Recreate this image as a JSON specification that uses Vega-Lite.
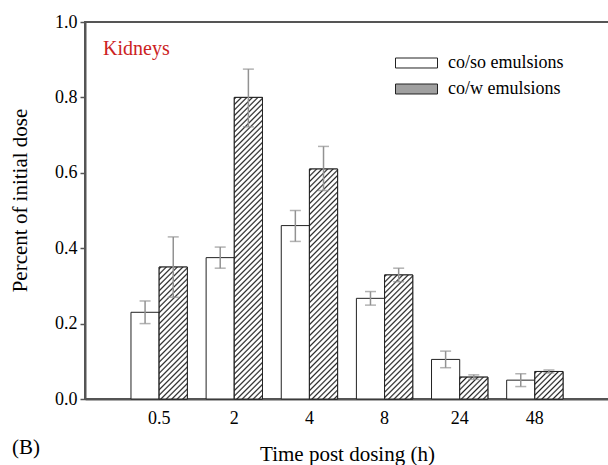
{
"$schema":"https://vega.github.io/schema/vega-lite/v6.json",
"autosize":"none",
"padding":{"left":85,"top":22,"right":0,"bottom":66},
"width":524,"height":377,
"config":{"font":"Liberation Serif, Times New Roman, serif","view":{"stroke":"#555","strokeWidth":2},
"axis":{"grid":false,"domainColor":"#555","domainWidth":2,"tickColor":"#555","tickWidth":1.5,"labelColor":"#000","titleColor":"#000","titleFontWeight":"normal","labelFont":"Liberation Serif, Times New Roman, serif","titleFont":"Liberation Serif, Times New Roman, serif"}},
"title":{"text":"(B)","orient":"bottom","anchor":"start","frame":"group","fontSize":21,"fontWeight":"normal","font":"Liberation Serif, Times New Roman, serif","color":"#000","baseline":"alphabetic","offset":0,"dx":-73,"dy":-10},
"data":{"values":[
{"time":"0.5","series":"co/so emulsions","value":0.23,"lo":0.20,"hi":0.26},
{"time":"0.5","series":"co/w emulsions","value":0.35,"lo":0.27,"hi":0.43},
{"time":"2","series":"co/so emulsions","value":0.375,"lo":0.347,"hi":0.403},
{"time":"2","series":"co/w emulsions","value":0.80,"lo":0.722,"hi":0.875},
{"time":"4","series":"co/so emulsions","value":0.46,"lo":0.418,"hi":0.50},
{"time":"4","series":"co/w emulsions","value":0.61,"lo":0.553,"hi":0.67},
{"time":"8","series":"co/so emulsions","value":0.267,"lo":0.249,"hi":0.285},
{"time":"8","series":"co/w emulsions","value":0.329,"lo":0.311,"hi":0.347},
{"time":"24","series":"co/so emulsions","value":0.105,"lo":0.083,"hi":0.127},
{"time":"24","series":"co/w emulsions","value":0.058,"lo":0.052,"hi":0.064},
{"time":"48","series":"co/so emulsions","value":0.05,"lo":0.033,"hi":0.067},
{"time":"48","series":"co/w emulsions","value":0.073,"lo":0.069,"hi":0.077}
]},
"encoding":{
"x":{"field":"time","type":"nominal","scale":{"domain":["0.5","2","4","8","24","48"],"paddingInner":0.25,"paddingOuter":0.612},
"axis":{"title":"Time post dosing (h)","titleFont":"Liberation Serif, Times New Roman, serif","labelFont":"Liberation Serif, Times New Roman, serif","titleFontSize":21,"titleY":61,"titleBaseline":"alphabetic","labelFontSize":18,"labelPadding":10,"ticks":false,"tickSize":0,"labelAngle":0}},
"xOffset":{"field":"series","type":"nominal","scale":{"domain":["co/so emulsions","co/w emulsions"],"paddingInner":0,"paddingOuter":0}}
},
"layer":[
{"mark":{"type":"bar","stroke":"#222","strokeWidth":1},
"encoding":{
"y":{"field":"value","type":"quantitative","title":"Percent of initial dose","scale":{"domain":[0,1],"nice":false},
"axis":{"titleFont":"Liberation Serif, Times New Roman, serif","labelFont":"Liberation Serif, Times New Roman, serif","titleFontSize":21,"titleX":-65,"titleY":178,"titleAngle":-90,"titleBaseline":"middle","titleAlign":"center","values":[0,0.2,0.4,0.6,0.8,1],"format":".1f","labelFontSize":18,"tickSize":5,"labelPadding":3}},
"fill":{"field":"series","type":"nominal","scale":{"domain":["co/so emulsions","co/w emulsions"],"range":["#ffffff","#a0a0a0"]},
"legend":{"orient":"none","legendX":18,"legendY":33,"title":"Kidneys","titleOrient":"left","titleFontSize":20,"titleColor":"#cc2222","titleFontWeight":"normal","titleFont":"Liberation Serif, Times New Roman, serif","titlePadding":225,"titleBaseline":"alphabetic","titleAnchor":"start",
"symbolType":"M-1,-0.238H1V0.238H-1Z","symbolSize":1764,"clipHeight":16,"rowPadding":8,"labelOffset":10,"labelFontSize":18,"labelFont":"Liberation Serif, Times New Roman, serif","labelColor":"#000","symbolStrokeColor":"#222","symbolStrokeWidth":1,"padding":0}}
}},
{"transform":[{"filter":"datum.series === 'co/w emulsions' && datum.time === '0.5'"}],
"mark":{"type":"bar","stroke":"#222","strokeWidth":1,"fill":{"gradient":"linear","x1":0,"y1":0,"x2":0.51115,"y2":2.3917,"stops":[
{"offset":0,"color":"#fff"},{"offset":0.005,"color":"#222"},{"offset":0.01,"color":"#fff"},{"offset":0.0167,"color":"#fff"},{"offset":0.0217,"color":"#222"},{"offset":0.0267,"color":"#fff"},{"offset":0.0333,"color":"#fff"},{"offset":0.0383,"color":"#222"},{"offset":0.0433,"color":"#fff"},
{"offset":0.05,"color":"#fff"},{"offset":0.055,"color":"#222"},{"offset":0.06,"color":"#fff"},{"offset":0.0667,"color":"#fff"},{"offset":0.0717,"color":"#222"},{"offset":0.0767,"color":"#fff"},{"offset":0.0833,"color":"#fff"},{"offset":0.0883,"color":"#222"},{"offset":0.0933,"color":"#fff"},
{"offset":0.1,"color":"#fff"},{"offset":0.105,"color":"#222"},{"offset":0.11,"color":"#fff"},{"offset":0.1167,"color":"#fff"},{"offset":0.1217,"color":"#222"},{"offset":0.1267,"color":"#fff"},{"offset":0.1333,"color":"#fff"},{"offset":0.1383,"color":"#222"},{"offset":0.1433,"color":"#fff"},
{"offset":0.15,"color":"#fff"},{"offset":0.155,"color":"#222"},{"offset":0.16,"color":"#fff"},{"offset":0.1667,"color":"#fff"},{"offset":0.1717,"color":"#222"},{"offset":0.1767,"color":"#fff"},{"offset":0.1833,"color":"#fff"},{"offset":0.1883,"color":"#222"},{"offset":0.1933,"color":"#fff"},
{"offset":0.2,"color":"#fff"},{"offset":0.205,"color":"#222"},{"offset":0.21,"color":"#fff"},{"offset":0.2167,"color":"#fff"},{"offset":0.2217,"color":"#222"},{"offset":0.2267,"color":"#fff"},{"offset":0.2333,"color":"#fff"},{"offset":0.2383,"color":"#222"},{"offset":0.2433,"color":"#fff"},
{"offset":0.25,"color":"#fff"},{"offset":0.255,"color":"#222"},{"offset":0.26,"color":"#fff"},{"offset":0.2667,"color":"#fff"},{"offset":0.2717,"color":"#222"},{"offset":0.2767,"color":"#fff"},{"offset":0.2833,"color":"#fff"},{"offset":0.2883,"color":"#222"},{"offset":0.2933,"color":"#fff"},
{"offset":0.3,"color":"#fff"},{"offset":0.305,"color":"#222"},{"offset":0.31,"color":"#fff"},{"offset":0.3167,"color":"#fff"},{"offset":0.3217,"color":"#222"},{"offset":0.3267,"color":"#fff"},{"offset":0.3333,"color":"#fff"},{"offset":0.3383,"color":"#222"},{"offset":0.3433,"color":"#fff"},
{"offset":0.35,"color":"#fff"},{"offset":0.355,"color":"#222"},{"offset":0.36,"color":"#fff"},{"offset":0.3667,"color":"#fff"},{"offset":0.3717,"color":"#222"},{"offset":0.3767,"color":"#fff"},{"offset":0.3833,"color":"#fff"},{"offset":0.3883,"color":"#222"},{"offset":0.3933,"color":"#fff"},
{"offset":0.4,"color":"#fff"},{"offset":0.405,"color":"#222"},{"offset":0.41,"color":"#fff"},{"offset":0.4167,"color":"#fff"},{"offset":0.4217,"color":"#222"},{"offset":0.4267,"color":"#fff"},{"offset":0.4333,"color":"#fff"},{"offset":0.4383,"color":"#222"},{"offset":0.4433,"color":"#fff"},
{"offset":0.45,"color":"#fff"},{"offset":0.455,"color":"#222"},{"offset":0.46,"color":"#fff"},{"offset":0.4667,"color":"#fff"},{"offset":0.4717,"color":"#222"},{"offset":0.4767,"color":"#fff"},{"offset":0.4833,"color":"#fff"},{"offset":0.4883,"color":"#222"},{"offset":0.4933,"color":"#fff"}
]}},
"encoding":{"y":{"field":"value","type":"quantitative","title":"Percent of initial dose"}}},
{"transform":[{"filter":"datum.series === 'co/w emulsions' && datum.time === '2'"}],
"mark":{"type":"bar","stroke":"#222","strokeWidth":1,"fill":{"gradient":"linear","x1":0,"y1":0,"x2":0.10142,"y2":1.0847,"stops":[
{"offset":0,"color":"#fff"},{"offset":0.005,"color":"#222"},{"offset":0.01,"color":"#fff"},{"offset":0.0167,"color":"#fff"},{"offset":0.0217,"color":"#222"},{"offset":0.0267,"color":"#fff"},{"offset":0.0333,"color":"#fff"},{"offset":0.0383,"color":"#222"},{"offset":0.0433,"color":"#fff"},
{"offset":0.05,"color":"#fff"},{"offset":0.055,"color":"#222"},{"offset":0.06,"color":"#fff"},{"offset":0.0667,"color":"#fff"},{"offset":0.0717,"color":"#222"},{"offset":0.0767,"color":"#fff"},{"offset":0.0833,"color":"#fff"},{"offset":0.0883,"color":"#222"},{"offset":0.0933,"color":"#fff"},
{"offset":0.1,"color":"#fff"},{"offset":0.105,"color":"#222"},{"offset":0.11,"color":"#fff"},{"offset":0.1167,"color":"#fff"},{"offset":0.1217,"color":"#222"},{"offset":0.1267,"color":"#fff"},{"offset":0.1333,"color":"#fff"},{"offset":0.1383,"color":"#222"},{"offset":0.1433,"color":"#fff"},
{"offset":0.15,"color":"#fff"},{"offset":0.155,"color":"#222"},{"offset":0.16,"color":"#fff"},{"offset":0.1667,"color":"#fff"},{"offset":0.1717,"color":"#222"},{"offset":0.1767,"color":"#fff"},{"offset":0.1833,"color":"#fff"},{"offset":0.1883,"color":"#222"},{"offset":0.1933,"color":"#fff"},
{"offset":0.2,"color":"#fff"},{"offset":0.205,"color":"#222"},{"offset":0.21,"color":"#fff"},{"offset":0.2167,"color":"#fff"},{"offset":0.2217,"color":"#222"},{"offset":0.2267,"color":"#fff"},{"offset":0.2333,"color":"#fff"},{"offset":0.2383,"color":"#222"},{"offset":0.2433,"color":"#fff"},
{"offset":0.25,"color":"#fff"},{"offset":0.255,"color":"#222"},{"offset":0.26,"color":"#fff"},{"offset":0.2667,"color":"#fff"},{"offset":0.2717,"color":"#222"},{"offset":0.2767,"color":"#fff"},{"offset":0.2833,"color":"#fff"},{"offset":0.2883,"color":"#222"},{"offset":0.2933,"color":"#fff"},
{"offset":0.3,"color":"#fff"},{"offset":0.305,"color":"#222"},{"offset":0.31,"color":"#fff"},{"offset":0.3167,"color":"#fff"},{"offset":0.3217,"color":"#222"},{"offset":0.3267,"color":"#fff"},{"offset":0.3333,"color":"#fff"},{"offset":0.3383,"color":"#222"},{"offset":0.3433,"color":"#fff"},
{"offset":0.35,"color":"#fff"},{"offset":0.355,"color":"#222"},{"offset":0.36,"color":"#fff"},{"offset":0.3667,"color":"#fff"},{"offset":0.3717,"color":"#222"},{"offset":0.3767,"color":"#fff"},{"offset":0.3833,"color":"#fff"},{"offset":0.3883,"color":"#222"},{"offset":0.3933,"color":"#fff"},
{"offset":0.4,"color":"#fff"},{"offset":0.405,"color":"#222"},{"offset":0.41,"color":"#fff"},{"offset":0.4167,"color":"#fff"},{"offset":0.4217,"color":"#222"},{"offset":0.4267,"color":"#fff"},{"offset":0.4333,"color":"#fff"},{"offset":0.4383,"color":"#222"},{"offset":0.4433,"color":"#fff"},
{"offset":0.45,"color":"#fff"},{"offset":0.455,"color":"#222"},{"offset":0.46,"color":"#fff"},{"offset":0.4667,"color":"#fff"},{"offset":0.4717,"color":"#222"},{"offset":0.4767,"color":"#fff"},{"offset":0.4833,"color":"#fff"},{"offset":0.4883,"color":"#222"},{"offset":0.4933,"color":"#fff"},
{"offset":0.5,"color":"#fff"},{"offset":0.505,"color":"#222"},{"offset":0.51,"color":"#fff"},{"offset":0.5167,"color":"#fff"},{"offset":0.5217,"color":"#222"},{"offset":0.5267,"color":"#fff"},{"offset":0.5333,"color":"#fff"},{"offset":0.5383,"color":"#222"},{"offset":0.5433,"color":"#fff"},
{"offset":0.55,"color":"#fff"},{"offset":0.555,"color":"#222"},{"offset":0.56,"color":"#fff"},{"offset":0.5667,"color":"#fff"},{"offset":0.5717,"color":"#222"},{"offset":0.5767,"color":"#fff"},{"offset":0.5833,"color":"#fff"},{"offset":0.5883,"color":"#222"},{"offset":0.5933,"color":"#fff"},
{"offset":0.6,"color":"#fff"},{"offset":0.605,"color":"#222"},{"offset":0.61,"color":"#fff"},{"offset":0.6167,"color":"#fff"},{"offset":0.6217,"color":"#222"},{"offset":0.6267,"color":"#fff"},{"offset":0.6333,"color":"#fff"},{"offset":0.6383,"color":"#222"},{"offset":0.6433,"color":"#fff"},
{"offset":0.65,"color":"#fff"},{"offset":0.655,"color":"#222"},{"offset":0.66,"color":"#fff"},{"offset":0.6667,"color":"#fff"},{"offset":0.6717,"color":"#222"},{"offset":0.6767,"color":"#fff"},{"offset":0.6833,"color":"#fff"},{"offset":0.6883,"color":"#222"},{"offset":0.6933,"color":"#fff"},
{"offset":0.7,"color":"#fff"},{"offset":0.705,"color":"#222"},{"offset":0.71,"color":"#fff"},{"offset":0.7167,"color":"#fff"},{"offset":0.7217,"color":"#222"},{"offset":0.7267,"color":"#fff"},{"offset":0.7333,"color":"#fff"},{"offset":0.7383,"color":"#222"},{"offset":0.7433,"color":"#fff"},
{"offset":0.75,"color":"#fff"},{"offset":0.755,"color":"#222"},{"offset":0.76,"color":"#fff"},{"offset":0.7667,"color":"#fff"},{"offset":0.7717,"color":"#222"},{"offset":0.7767,"color":"#fff"},{"offset":0.7833,"color":"#fff"},{"offset":0.7883,"color":"#222"},{"offset":0.7933,"color":"#fff"},
{"offset":0.8,"color":"#fff"},{"offset":0.805,"color":"#222"},{"offset":0.81,"color":"#fff"},{"offset":0.8167,"color":"#fff"},{"offset":0.8217,"color":"#222"},{"offset":0.8267,"color":"#fff"},{"offset":0.8333,"color":"#fff"},{"offset":0.8383,"color":"#222"},{"offset":0.8433,"color":"#fff"},
{"offset":0.85,"color":"#fff"},{"offset":0.855,"color":"#222"},{"offset":0.86,"color":"#fff"},{"offset":0.8667,"color":"#fff"},{"offset":0.8717,"color":"#222"},{"offset":0.8767,"color":"#fff"},{"offset":0.8833,"color":"#fff"},{"offset":0.8883,"color":"#222"},{"offset":0.8933,"color":"#fff"},
{"offset":0.9,"color":"#fff"},{"offset":0.905,"color":"#222"},{"offset":0.91,"color":"#fff"},{"offset":0.9167,"color":"#fff"},{"offset":0.9217,"color":"#222"},{"offset":0.9267,"color":"#fff"},{"offset":0.9333,"color":"#fff"},{"offset":0.9383,"color":"#222"},{"offset":0.9433,"color":"#fff"},
{"offset":0.95,"color":"#fff"},{"offset":0.955,"color":"#222"},{"offset":0.96,"color":"#fff"},{"offset":0.9667,"color":"#fff"},{"offset":0.9717,"color":"#222"},{"offset":0.9767,"color":"#fff"},{"offset":0.9833,"color":"#fff"},{"offset":0.9883,"color":"#222"},{"offset":0.9933,"color":"#fff"}
]}},
"encoding":{"y":{"field":"value","type":"quantitative","title":"Percent of initial dose"}}},
{"transform":[{"filter":"datum.series === 'co/w emulsions' && datum.time === '4'"}],
"mark":{"type":"bar","stroke":"#222","strokeWidth":1,"fill":{"gradient":"linear","x1":0,"y1":0,"x2":0.17336,"y2":1.41372,"stops":[
{"offset":0,"color":"#fff"},{"offset":0.005,"color":"#222"},{"offset":0.01,"color":"#fff"},{"offset":0.0167,"color":"#fff"},{"offset":0.0217,"color":"#222"},{"offset":0.0267,"color":"#fff"},{"offset":0.0333,"color":"#fff"},{"offset":0.0383,"color":"#222"},{"offset":0.0433,"color":"#fff"},
{"offset":0.05,"color":"#fff"},{"offset":0.055,"color":"#222"},{"offset":0.06,"color":"#fff"},{"offset":0.0667,"color":"#fff"},{"offset":0.0717,"color":"#222"},{"offset":0.0767,"color":"#fff"},{"offset":0.0833,"color":"#fff"},{"offset":0.0883,"color":"#222"},{"offset":0.0933,"color":"#fff"},
{"offset":0.1,"color":"#fff"},{"offset":0.105,"color":"#222"},{"offset":0.11,"color":"#fff"},{"offset":0.1167,"color":"#fff"},{"offset":0.1217,"color":"#222"},{"offset":0.1267,"color":"#fff"},{"offset":0.1333,"color":"#fff"},{"offset":0.1383,"color":"#222"},{"offset":0.1433,"color":"#fff"},
{"offset":0.15,"color":"#fff"},{"offset":0.155,"color":"#222"},{"offset":0.16,"color":"#fff"},{"offset":0.1667,"color":"#fff"},{"offset":0.1717,"color":"#222"},{"offset":0.1767,"color":"#fff"},{"offset":0.1833,"color":"#fff"},{"offset":0.1883,"color":"#222"},{"offset":0.1933,"color":"#fff"},
{"offset":0.2,"color":"#fff"},{"offset":0.205,"color":"#222"},{"offset":0.21,"color":"#fff"},{"offset":0.2167,"color":"#fff"},{"offset":0.2217,"color":"#222"},{"offset":0.2267,"color":"#fff"},{"offset":0.2333,"color":"#fff"},{"offset":0.2383,"color":"#222"},{"offset":0.2433,"color":"#fff"},
{"offset":0.25,"color":"#fff"},{"offset":0.255,"color":"#222"},{"offset":0.26,"color":"#fff"},{"offset":0.2667,"color":"#fff"},{"offset":0.2717,"color":"#222"},{"offset":0.2767,"color":"#fff"},{"offset":0.2833,"color":"#fff"},{"offset":0.2883,"color":"#222"},{"offset":0.2933,"color":"#fff"},
{"offset":0.3,"color":"#fff"},{"offset":0.305,"color":"#222"},{"offset":0.31,"color":"#fff"},{"offset":0.3167,"color":"#fff"},{"offset":0.3217,"color":"#222"},{"offset":0.3267,"color":"#fff"},{"offset":0.3333,"color":"#fff"},{"offset":0.3383,"color":"#222"},{"offset":0.3433,"color":"#fff"},
{"offset":0.35,"color":"#fff"},{"offset":0.355,"color":"#222"},{"offset":0.36,"color":"#fff"},{"offset":0.3667,"color":"#fff"},{"offset":0.3717,"color":"#222"},{"offset":0.3767,"color":"#fff"},{"offset":0.3833,"color":"#fff"},{"offset":0.3883,"color":"#222"},{"offset":0.3933,"color":"#fff"},
{"offset":0.4,"color":"#fff"},{"offset":0.405,"color":"#222"},{"offset":0.41,"color":"#fff"},{"offset":0.4167,"color":"#fff"},{"offset":0.4217,"color":"#222"},{"offset":0.4267,"color":"#fff"},{"offset":0.4333,"color":"#fff"},{"offset":0.4383,"color":"#222"},{"offset":0.4433,"color":"#fff"},
{"offset":0.45,"color":"#fff"},{"offset":0.455,"color":"#222"},{"offset":0.46,"color":"#fff"},{"offset":0.4667,"color":"#fff"},{"offset":0.4717,"color":"#222"},{"offset":0.4767,"color":"#fff"},{"offset":0.4833,"color":"#fff"},{"offset":0.4883,"color":"#222"},{"offset":0.4933,"color":"#fff"},
{"offset":0.5,"color":"#fff"},{"offset":0.505,"color":"#222"},{"offset":0.51,"color":"#fff"},{"offset":0.5167,"color":"#fff"},{"offset":0.5217,"color":"#222"},{"offset":0.5267,"color":"#fff"},{"offset":0.5333,"color":"#fff"},{"offset":0.5383,"color":"#222"},{"offset":0.5433,"color":"#fff"},
{"offset":0.55,"color":"#fff"},{"offset":0.555,"color":"#222"},{"offset":0.56,"color":"#fff"},{"offset":0.5667,"color":"#fff"},{"offset":0.5717,"color":"#222"},{"offset":0.5767,"color":"#fff"},{"offset":0.5833,"color":"#fff"},{"offset":0.5883,"color":"#222"},{"offset":0.5933,"color":"#fff"},
{"offset":0.6,"color":"#fff"},{"offset":0.605,"color":"#222"},{"offset":0.61,"color":"#fff"},{"offset":0.6167,"color":"#fff"},{"offset":0.6217,"color":"#222"},{"offset":0.6267,"color":"#fff"},{"offset":0.6333,"color":"#fff"},{"offset":0.6383,"color":"#222"},{"offset":0.6433,"color":"#fff"},
{"offset":0.65,"color":"#fff"},{"offset":0.655,"color":"#222"},{"offset":0.66,"color":"#fff"},{"offset":0.6667,"color":"#fff"},{"offset":0.6717,"color":"#222"},{"offset":0.6767,"color":"#fff"},{"offset":0.6833,"color":"#fff"},{"offset":0.6883,"color":"#222"},{"offset":0.6933,"color":"#fff"},
{"offset":0.7,"color":"#fff"},{"offset":0.705,"color":"#222"},{"offset":0.71,"color":"#fff"},{"offset":0.7167,"color":"#fff"},{"offset":0.7217,"color":"#222"},{"offset":0.7267,"color":"#fff"},{"offset":0.7333,"color":"#fff"},{"offset":0.7383,"color":"#222"},{"offset":0.7433,"color":"#fff"},
{"offset":0.75,"color":"#fff"},{"offset":0.755,"color":"#222"},{"offset":0.76,"color":"#fff"},{"offset":0.7667,"color":"#fff"},{"offset":0.7717,"color":"#222"},{"offset":0.7767,"color":"#fff"},{"offset":0.7833,"color":"#fff"},{"offset":0.7883,"color":"#222"},{"offset":0.7933,"color":"#fff"}
]}},
"encoding":{"y":{"field":"value","type":"quantitative","title":"Percent of initial dose"}}},
{"transform":[{"filter":"datum.series === 'co/w emulsions' && datum.time === '8'"}],
"mark":{"type":"bar","stroke":"#222","strokeWidth":1,"fill":{"gradient":"linear","x1":0,"y1":0,"x2":0.5752,"y2":2.52984,"stops":[
{"offset":0,"color":"#fff"},{"offset":0.005,"color":"#222"},{"offset":0.01,"color":"#fff"},{"offset":0.0167,"color":"#fff"},{"offset":0.0217,"color":"#222"},{"offset":0.0267,"color":"#fff"},{"offset":0.0333,"color":"#fff"},{"offset":0.0383,"color":"#222"},{"offset":0.0433,"color":"#fff"},
{"offset":0.05,"color":"#fff"},{"offset":0.055,"color":"#222"},{"offset":0.06,"color":"#fff"},{"offset":0.0667,"color":"#fff"},{"offset":0.0717,"color":"#222"},{"offset":0.0767,"color":"#fff"},{"offset":0.0833,"color":"#fff"},{"offset":0.0883,"color":"#222"},{"offset":0.0933,"color":"#fff"},
{"offset":0.1,"color":"#fff"},{"offset":0.105,"color":"#222"},{"offset":0.11,"color":"#fff"},{"offset":0.1167,"color":"#fff"},{"offset":0.1217,"color":"#222"},{"offset":0.1267,"color":"#fff"},{"offset":0.1333,"color":"#fff"},{"offset":0.1383,"color":"#222"},{"offset":0.1433,"color":"#fff"},
{"offset":0.15,"color":"#fff"},{"offset":0.155,"color":"#222"},{"offset":0.16,"color":"#fff"},{"offset":0.1667,"color":"#fff"},{"offset":0.1717,"color":"#222"},{"offset":0.1767,"color":"#fff"},{"offset":0.1833,"color":"#fff"},{"offset":0.1883,"color":"#222"},{"offset":0.1933,"color":"#fff"},
{"offset":0.2,"color":"#fff"},{"offset":0.205,"color":"#222"},{"offset":0.21,"color":"#fff"},{"offset":0.2167,"color":"#fff"},{"offset":0.2217,"color":"#222"},{"offset":0.2267,"color":"#fff"},{"offset":0.2333,"color":"#fff"},{"offset":0.2383,"color":"#222"},{"offset":0.2433,"color":"#fff"},
{"offset":0.25,"color":"#fff"},{"offset":0.255,"color":"#222"},{"offset":0.26,"color":"#fff"},{"offset":0.2667,"color":"#fff"},{"offset":0.2717,"color":"#222"},{"offset":0.2767,"color":"#fff"},{"offset":0.2833,"color":"#fff"},{"offset":0.2883,"color":"#222"},{"offset":0.2933,"color":"#fff"},
{"offset":0.3,"color":"#fff"},{"offset":0.305,"color":"#222"},{"offset":0.31,"color":"#fff"},{"offset":0.3167,"color":"#fff"},{"offset":0.3217,"color":"#222"},{"offset":0.3267,"color":"#fff"},{"offset":0.3333,"color":"#fff"},{"offset":0.3383,"color":"#222"},{"offset":0.3433,"color":"#fff"},
{"offset":0.35,"color":"#fff"},{"offset":0.355,"color":"#222"},{"offset":0.36,"color":"#fff"},{"offset":0.3667,"color":"#fff"},{"offset":0.3717,"color":"#222"},{"offset":0.3767,"color":"#fff"},{"offset":0.3833,"color":"#fff"},{"offset":0.3883,"color":"#222"},{"offset":0.3933,"color":"#fff"},
{"offset":0.4,"color":"#fff"},{"offset":0.405,"color":"#222"},{"offset":0.41,"color":"#fff"},{"offset":0.4167,"color":"#fff"},{"offset":0.4217,"color":"#222"},{"offset":0.4267,"color":"#fff"},{"offset":0.4333,"color":"#fff"},{"offset":0.4383,"color":"#222"},{"offset":0.4433,"color":"#fff"},
{"offset":0.45,"color":"#fff"},{"offset":0.455,"color":"#222"},{"offset":0.46,"color":"#fff"},{"offset":0.4667,"color":"#fff"},{"offset":0.4717,"color":"#222"},{"offset":0.4767,"color":"#fff"},{"offset":0.4833,"color":"#fff"},{"offset":0.4883,"color":"#222"},{"offset":0.4933,"color":"#fff"}
]}},
"encoding":{"y":{"field":"value","type":"quantitative","title":"Percent of initial dose"}}},
{"transform":[{"filter":"datum.series === 'co/w emulsions' && datum.time === '24'"}],
"mark":{"type":"bar","stroke":"#222","strokeWidth":1,"fill":{"gradient":"linear","x1":0,"y1":0,"x2":7.308,"y2":5.6666,"stops":[
{"offset":0,"color":"#fff"},{"offset":0.005,"color":"#222"},{"offset":0.01,"color":"#fff"},{"offset":0.0167,"color":"#fff"},{"offset":0.0217,"color":"#222"},{"offset":0.0267,"color":"#fff"},{"offset":0.0333,"color":"#fff"},{"offset":0.0383,"color":"#222"},{"offset":0.0433,"color":"#fff"},
{"offset":0.05,"color":"#fff"},{"offset":0.055,"color":"#222"},{"offset":0.06,"color":"#fff"},{"offset":0.0667,"color":"#fff"},{"offset":0.0717,"color":"#222"},{"offset":0.0767,"color":"#fff"},{"offset":0.0833,"color":"#fff"},{"offset":0.0883,"color":"#222"},{"offset":0.0933,"color":"#fff"},
{"offset":0.1,"color":"#fff"},{"offset":0.105,"color":"#222"},{"offset":0.11,"color":"#fff"},{"offset":0.1167,"color":"#fff"},{"offset":0.1217,"color":"#222"},{"offset":0.1267,"color":"#fff"},{"offset":0.1333,"color":"#fff"},{"offset":0.1383,"color":"#222"},{"offset":0.1433,"color":"#fff"},
{"offset":0.15,"color":"#fff"},{"offset":0.155,"color":"#222"},{"offset":0.16,"color":"#fff"},{"offset":0.1667,"color":"#fff"},{"offset":0.1717,"color":"#222"},{"offset":0.1767,"color":"#fff"},{"offset":0.1833,"color":"#fff"},{"offset":0.1883,"color":"#222"},{"offset":0.1933,"color":"#fff"}
]}},
"encoding":{"y":{"field":"value","type":"quantitative","title":"Percent of initial dose"}}},
{"transform":[{"filter":"datum.series === 'co/w emulsions' && datum.time === '48'"}],
"mark":{"type":"bar","stroke":"#222","strokeWidth":1,"fill":{"gradient":"linear","x1":0,"y1":0,"x2":5.9937,"y2":5.8494,"stops":[
{"offset":0,"color":"#fff"},{"offset":0.005,"color":"#222"},{"offset":0.01,"color":"#fff"},{"offset":0.0167,"color":"#fff"},{"offset":0.0217,"color":"#222"},{"offset":0.0267,"color":"#fff"},{"offset":0.0333,"color":"#fff"},{"offset":0.0383,"color":"#222"},{"offset":0.0433,"color":"#fff"},
{"offset":0.05,"color":"#fff"},{"offset":0.055,"color":"#222"},{"offset":0.06,"color":"#fff"},{"offset":0.0667,"color":"#fff"},{"offset":0.0717,"color":"#222"},{"offset":0.0767,"color":"#fff"},{"offset":0.0833,"color":"#fff"},{"offset":0.0883,"color":"#222"},{"offset":0.0933,"color":"#fff"},
{"offset":0.1,"color":"#fff"},{"offset":0.105,"color":"#222"},{"offset":0.11,"color":"#fff"},{"offset":0.1167,"color":"#fff"},{"offset":0.1217,"color":"#222"},{"offset":0.1267,"color":"#fff"},{"offset":0.1333,"color":"#fff"},{"offset":0.1383,"color":"#222"},{"offset":0.1433,"color":"#fff"},
{"offset":0.15,"color":"#fff"},{"offset":0.155,"color":"#222"},{"offset":0.16,"color":"#fff"},{"offset":0.1667,"color":"#fff"},{"offset":0.1717,"color":"#222"},{"offset":0.1767,"color":"#fff"},{"offset":0.1833,"color":"#fff"},{"offset":0.1883,"color":"#222"},{"offset":0.1933,"color":"#fff"}
]}},
"encoding":{"y":{"field":"value","type":"quantitative","title":"Percent of initial dose"}}},
{"mark":{"type":"rule","color":"#929292","strokeWidth":1.5},
"encoding":{"y":{"field":"lo","type":"quantitative","title":"Percent of initial dose"},"y2":{"field":"hi"}}},
{"mark":{"type":"tick","color":"#929292","thickness":1.5,"size":11},
"encoding":{"y":{"field":"lo","type":"quantitative","title":"Percent of initial dose"}}},
{"mark":{"type":"tick","color":"#929292","thickness":1.5,"size":11},
"encoding":{"y":{"field":"hi","type":"quantitative","title":"Percent of initial dose"}}}
]
}
